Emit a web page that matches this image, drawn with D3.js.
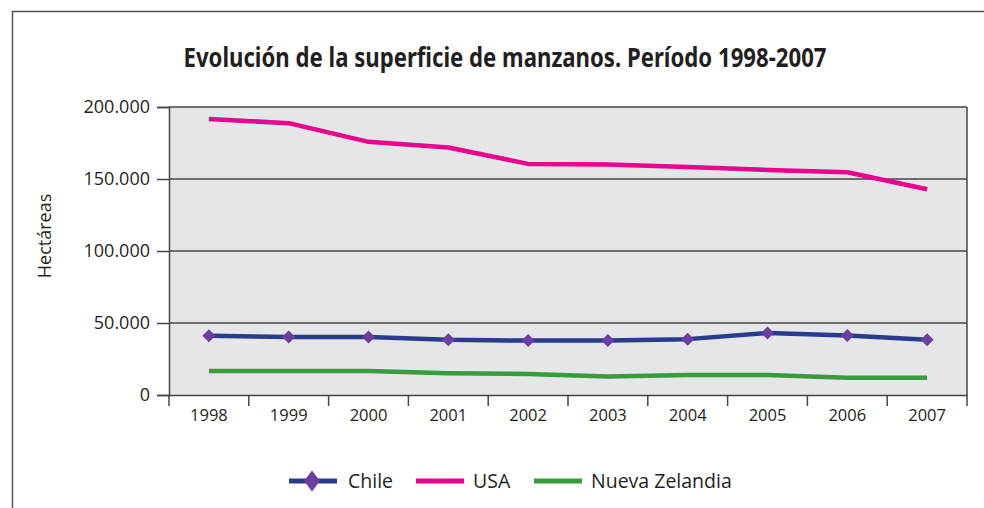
<!DOCTYPE html>
<html>
<head>
<meta charset="utf-8">
<script src="https://cdn.jsdelivr.net/npm/d3@7"></script>
<style>
  body { margin: 0; background: #fff; }
  svg { display: block; }
  .tick text { fill: #231f20; }
</style>
</head>
<body>
<div id="chart"></div>
<script>
var years = ["1998", "1999", "2000", "2001", "2002", "2003", "2004", "2005", "2006", "2007"];
var chile = [41100, 40200, 40200, 38300, 37800, 37800, 38800, 43000, 41300, 38300];
var usa = [191600, 188800, 175800, 171900, 160500, 160000, 158400, 156300, 154700, 142900];
var nuevaZelandia = [16700, 16700, 16700, 15100, 14600, 12800, 13900, 13900, 12000, 12000];
var yTicks = [0, 50000, 100000, 150000, 200000];

var w = 984;
var h = 508;

var pLeft = 169, pRight = 967, pTop = 107, pBottom = 395;

var svg = d3.select("#chart")
  .append("svg")
  .attr("width", w)
  .attr("height", h);

// frame (top and left edges only)
svg.append("path")
  .attr("d", "M12.5,508 V11.5 H984")
  .attr("fill", "none")
  .attr("stroke", "#555")
  .attr("stroke-width", 1.5);

svg.append("text")
  .attr("x", 505)
  .attr("y", 67)
  .attr("text-anchor", "middle")
  .attr("font-family", "'Noto Sans', sans-serif")
  .attr("font-weight", "bold")
  .attr("font-size", 26)
  .attr("textLength", 643)
  .attr("lengthAdjust", "spacingAndGlyphs")
  .attr("fill", "#231f20")
  .text("Evolución de la superficie de manzanos. Período 1998-2007");

var xScale = d3.scaleBand().domain(years).range([pLeft, pRight]);
var yScale = d3.scaleLinear().domain([0, 200000]).range([pBottom, pTop]);

// plot area
svg.append("rect")
  .attr("x", pLeft)
  .attr("y", pTop)
  .attr("width", pRight - pLeft)
  .attr("height", pBottom - pTop)
  .attr("fill", "#e5e6e8");

// gridlines
svg.append("g")
  .selectAll("line")
  .data(yTicks.slice(1))
  .enter()
  .append("line")
  .attr("x1", pLeft)
  .attr("x2", pRight)
  .attr("y1", function(d) { return yScale(d); })
  .attr("y2", function(d) { return yScale(d); })
  .attr("stroke", "#444")
  .attr("stroke-width", 1.5);

svg.append("line")
  .attr("x1", pRight).attr("x2", pRight)
  .attr("y1", pTop).attr("y2", pBottom)
  .attr("stroke", "#444").attr("stroke-width", 1.5);

var fmt = function(d) { return d === 0 ? "0" : d3.format(",")(d).replace(/,/g, "."); };

var yAxis = d3.axisLeft(yScale).tickValues(yTicks).tickFormat(fmt).tickSize(12).tickPadding(7);
var gy = svg.append("g")
  .attr("transform", "translate(" + pLeft + ",0)")
  .call(yAxis);
gy.selectAll("text")
  .attr("font-family", "'Open Sans', sans-serif")
  .attr("font-size", 18);

var xAxis = d3.axisBottom(xScale).tickSize(0).tickPadding(14);
var gx = svg.append("g")
  .attr("transform", "translate(0," + pBottom + ")")
  .call(xAxis);
gx.selectAll("text")
  .attr("font-family", "'Open Sans', sans-serif")
  .attr("font-size", 16.5);

// x ticks at band boundaries
svg.append("g")
  .selectAll("line")
  .data(years.concat(["end"]))
  .enter()
  .append("line")
  .attr("x1", function(d, i) { return pLeft + i * xScale.bandwidth(); })
  .attr("x2", function(d, i) { return pLeft + i * xScale.bandwidth(); })
  .attr("y1", pBottom)
  .attr("y2", pBottom + 11)
  .attr("stroke", "#444")
  .attr("stroke-width", 1.5);

[gx, gy].forEach(function(g) {
  g.selectAll(".domain").attr("stroke", "#444").attr("stroke-width", 1.5);
  g.selectAll(".tick line").attr("stroke", "#444").attr("stroke-width", 1.5);
});

svg.append("text")
  .attr("transform", "translate(51,236)rotate(-90)")
  .attr("text-anchor", "middle")
  .attr("font-family", "'Open Sans', sans-serif")
  .attr("font-size", 18)
  .attr("fill", "#231f20")
  .text("Hectáreas");

var line = d3.line()
  .x(function(d, i) { return xScale(years[i]) + xScale.bandwidth() / 2; })
  .y(function(d) { return yScale(d); });

var series = [
  { name: "Chile", values: chile, color: "#2a3b8f", marker: true },
  { name: "USA", values: usa, color: "#ec008c", marker: false },
  { name: "Nueva Zelandia", values: nuevaZelandia, color: "#3a9a3e", marker: false }
];

function diamondPath(rx, ry) {
  return "M0," + (-ry) + "L" + rx + ",0L0," + ry + "L" + (-rx) + ",0Z";
}

series.slice().reverse().forEach(function(s) {
  svg.append("path")
    .datum(s.values)
    .attr("d", line)
    .attr("fill", "none")
    .attr("stroke", s.color)
    .attr("stroke-width", 4.5)
    .attr("stroke-linejoin", "round");
  if (s.marker) {
    svg.append("g")
      .selectAll("path")
      .data(s.values)
      .enter()
      .append("path")
      .attr("d", diamondPath(6.5, 6.5))
      .attr("transform", function(d, i) {
        return "translate(" + (xScale(years[i]) + xScale.bandwidth() / 2) + "," + yScale(d) + ")";
      })
      .attr("fill", "#6b3fa0");
  }
});

// legend
var legendX = [289, 416, 534];
var legend = svg.append("g");
series.forEach(function(s, i) {
  var g = legend.append("g").attr("transform", "translate(" + legendX[i] + ",481)");
  g.append("line")
    .attr("x1", 0).attr("x2", 48)
    .attr("y1", 0).attr("y2", 0)
    .attr("stroke", s.color)
    .attr("stroke-width", 5);
  if (s.marker) {
    g.append("path")
      .attr("d", diamondPath(8, 10.5))
      .attr("transform", "translate(23,0)")
      .attr("fill", "#6b3fa0");
  }
  g.append("text")
    .attr("x", i === 0 ? 59 : 57)
    .attr("y", 7)
    .attr("font-family", "'Open Sans', sans-serif")
    .attr("font-size", 19.5)
    .attr("fill", "#231f20")
    .text(s.name);
});
</script>
</body>
</html>
